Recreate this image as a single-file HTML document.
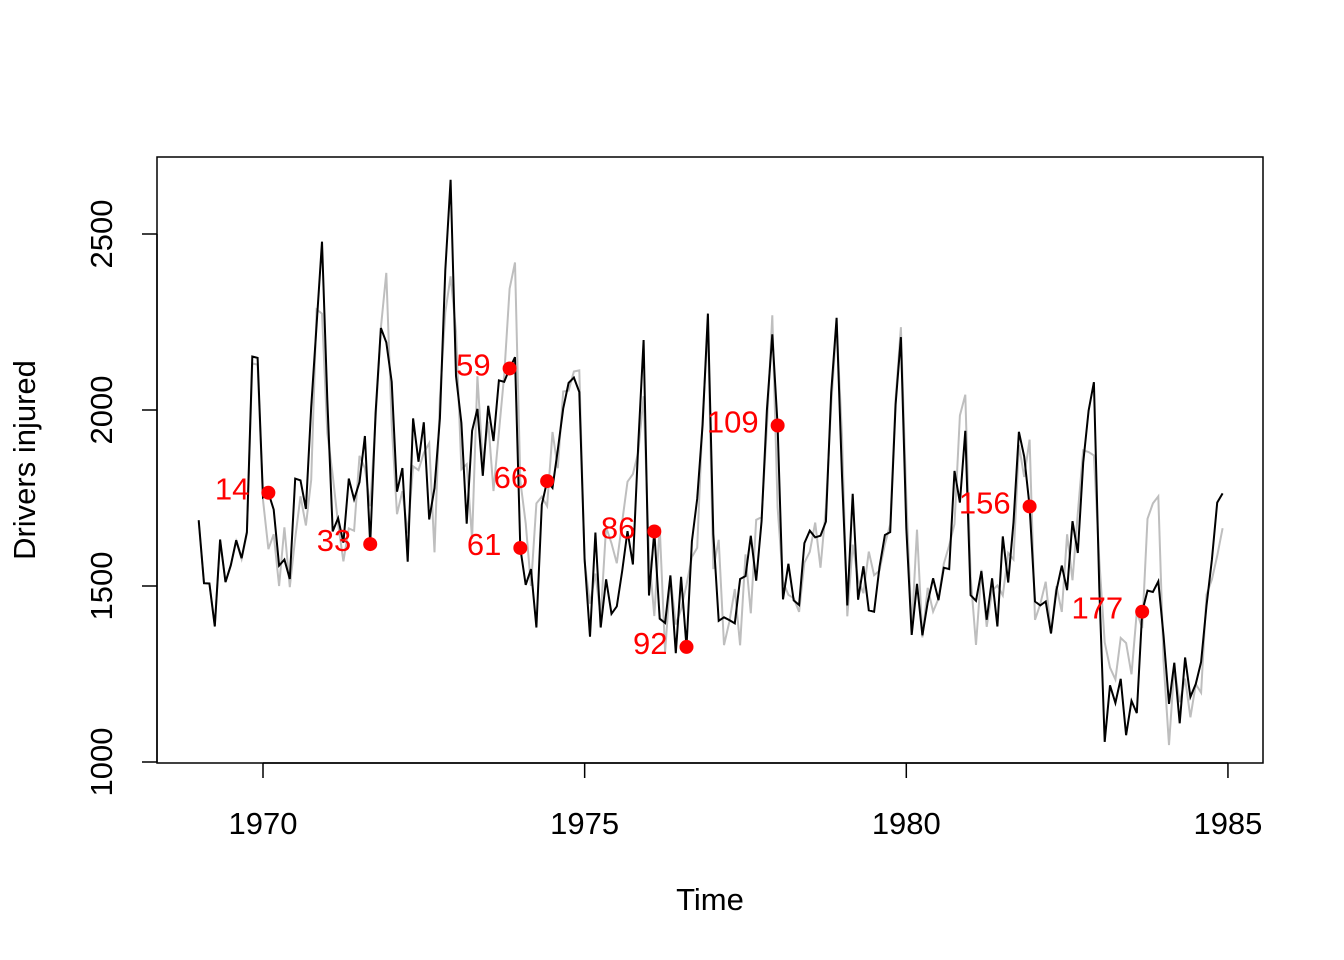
<!DOCTYPE html>
<html><head><meta charset="utf-8"><style>
html,body{margin:0;padding:0;background:#fff;}
svg{display:block;font-family:"Liberation Sans",sans-serif;}
</style></head><body>
<svg id="s" width="1344" height="960" xmlns="http://www.w3.org/2000/svg">
<rect x="157" y="157" width="1106" height="606" fill="none" stroke="#000" stroke-width="1.5"/>
<g id="g"></g>
</svg>
<script>
var d=[1687,1508,1507,1385,1632,1511,1559,1630,1579,1653,2152,2148,
1752,1765,1717,1558,1575,1520,1805,1800,1719,2008,2242,2478,
2030,1655,1693,1623,1805,1746,1795,1926,1619,1992,2233,2192,
2080,1768,1835,1569,1976,1853,1965,1689,1778,1976,2397,2654,
2097,1963,1677,1941,2003,1813,2012,1912,2084,2080,2118,2150,
1608,1503,1548,1382,1731,1798,1779,1887,2004,2077,2092,2051,
1577,1356,1652,1382,1519,1421,1442,1543,1656,1561,1905,2199,
1473,1655,1407,1395,1530,1309,1526,1327,1627,1748,1958,2274,
1648,1401,1411,1403,1394,1520,1528,1643,1515,1685,2000,2215,
1956,1462,1563,1459,1446,1622,1657,1638,1643,1683,2050,2262,
1813,1445,1762,1461,1556,1431,1427,1554,1645,1653,2016,2207,
1665,1361,1506,1360,1453,1522,1460,1552,1548,1827,1737,1941,
1474,1458,1542,1404,1522,1385,1641,1510,1681,1938,1868,1726,
1456,1445,1456,1365,1487,1558,1488,1684,1594,1850,1998,2079,
1494,1057,1218,1168,1236,1076,1174,1139,1427,1487,1483,1513,
1357,1165,1282,1110,1297,1185,1222,1284,1444,1575,1737,1763];
function X(i){return 263+(1969+i/12-1970)*64.33;}
function Y(v){return 762-(v-1000)*0.352;}
var ns="http://www.w3.org/2000/svg",g=document.getElementById('g');
function el(t,a,txt){var e=document.createElementNS(ns,t);for(var k in a)e.setAttribute(k,a[k]);if(txt!=null)e.textContent=txt;g.appendChild(e);return e;}
var gr=[];for(var i=0;i<d.length;i++){if(i<13)gr.push(d[i]*0.97+45);else gr.push(d[i-12]+0.6*(d[i-1]-d[i-13])*0.5+0.5*(d[i]-d[i-12])*0.6);}
function path(a){var s='';for(var i=0;i<a.length;i++)s+=(i?'L':'M')+X(i).toFixed(1)+','+Y(a[i]).toFixed(1);return s;}
el('path',{d:path(gr),fill:'none',stroke:'#bebebe','stroke-width':2});
el('path',{d:path(d),fill:'none',stroke:'#000','stroke-width':2});
[14,33,59,61,66,86,92,109,156,177].forEach(function(n){var i=n-1;el('circle',{cx:X(i),cy:Y(d[i]),r:7,fill:'#f00'});
el('text',{x:X(i)-19,y:Y(d[i])+7,'text-anchor':'end','font-size':31,fill:'#f00'},String(n));});
[1970,1975,1980,1985].forEach(function(yr){var x=263+(yr-1970)*64.33;el('line',{x1:x,x2:x,y1:763,y2:778,stroke:'#000','stroke-width':1.5});
el('text',{x:x,y:834,'text-anchor':'middle','font-size':31},String(yr));});
el('line',{x1:263,x2:1228,y1:763,y2:763,stroke:'#000','stroke-width':1.5});
[1000,1500,2000,2500].forEach(function(v){var y=Y(v);el('line',{x1:142,x2:157,y1:y,y2:y,stroke:'#000','stroke-width':1.5});
el('text',{x:0,y:0,'text-anchor':'middle','font-size':31,transform:'translate(112,'+y+') rotate(-90)'},String(v));});
el('line',{x1:157,x2:157,y1:Y(1000),y2:Y(2500),stroke:'#000','stroke-width':1.5});
el('text',{x:710,y:910,'text-anchor':'middle','font-size':31},'Time');
el('text',{x:0,y:0,'text-anchor':'middle','font-size':31,transform:'translate(35,460) rotate(-90)'},'Drivers injured');
</script>
</body></html>
